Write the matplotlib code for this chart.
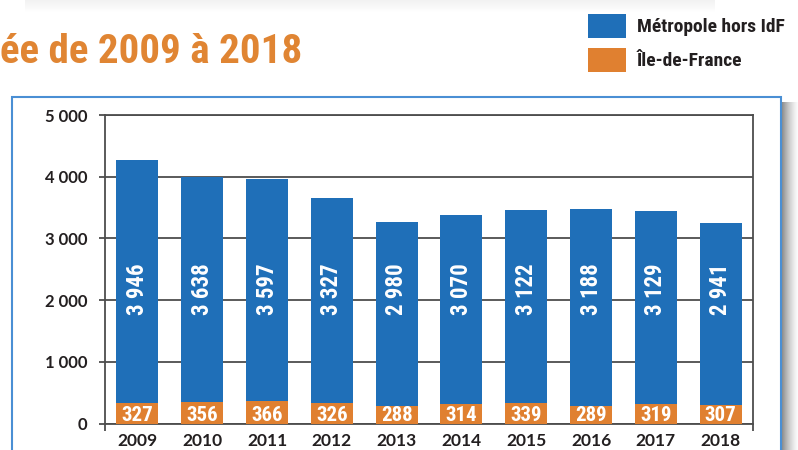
import matplotlib.pyplot as plt
import numpy as np
from matplotlib.patches import Rectangle

years = ['2009', '2010', '2011', '2012', '2013', '2014', '2015', '2016', '2017', '2018']
metropole = [3946, 3638, 3597, 3327, 2980, 3070, 3122, 3188, 3129, 2941]
idf = [327, 356, 366, 326, 288, 314, 339, 289, 319, 307]

blue = '#1f6fb8'
orange = '#e08030'
dark = '#231f20'
grid = '#4d4d4d'
narrow = ['Roboto Condensed', 'Lato', 'DejaVu Sans']
plt.rcParams['font.family'] = ['Lato', 'DejaVu Sans']

W, H = 798, 450
fig = plt.figure(figsize=(W / 100, H / 100), dpi=100)

# shadow from the box above (top edge)
for i in range(12):
    fig.add_artist(Rectangle((25 / W, 1 - (i + 1) / H), 690 / W, 1 / H, transform=fig.transFigure,
                             color='#808080', alpha=0.10 * (1 - i / 12), lw=0, zorder=0))
# shadow on the right of the chart box
for i in range(17):
    fig.add_artist(Rectangle(((782 + i) / W, 0), 1 / W, 1 - 102 / H, transform=fig.transFigure,
                             color='#606060', alpha=0.7 * (1 - i / 17) ** 1.5, lw=0, zorder=0))
# chart box
fig.add_artist(Rectangle((12 / W, -0.1), (781 - 12) / W, 1 - 97 / H + 0.1, transform=fig.transFigure,
                         facecolor='white', edgecolor='#4a8fd4', lw=1.5, zorder=1))

# title (cut on the left in the original)
fig.text(0, 1 - 63 / H, 'ée de 2009 à 2018', color='#e08533', fontsize=29.5, fontweight='bold',
         ha='left', va='baseline', family=narrow, fontstretch='condensed')

# legend
for k, (lab, col) in enumerate([('Métropole hors IdF', blue), ('Île-de-France', orange)]):
    y0 = 14 + k * 34
    fig.add_artist(Rectangle((588 / W, 1 - (y0 + 24) / H), 38 / W, 24 / H, transform=fig.transFigure,
                             color=col, lw=0))
    fig.text(637 / W, 1 - (y0 + 18.5) / H, lab, color=dark, fontsize=14, fontweight='bold',
             ha='left', va='baseline', family=narrow, fontstretch='condensed')

ax = fig.add_axes([105 / W, 26.5 / H, 648 / W, 308.5 / H])
ax.set_zorder(2)
ax.patch.set_alpha(0)
x = np.arange(len(years))
ax.bar(x, idf, 0.65, color=orange, zorder=3)
ax.bar(x, metropole, 0.65, bottom=idf, color=blue, zorder=3)

for i in range(len(years)):
    ax.text(x[i], 1758, f'{metropole[i]:,}'.replace(',', ' '), rotation=90, ha='center', va='bottom',
            color='white', fontsize=16.5, fontweight='bold', family=narrow, fontstretch='condensed', zorder=4)
    ax.text(x[i], 38, str(idf[i]), ha='center', va='baseline',
            color='white', fontsize=15, fontweight='bold', family=narrow, fontstretch='condensed', zorder=4)

ax.set_xlim(-0.5, 9.5)
ax.set_ylim(0, 5000)
yt = np.arange(0, 5001, 1000)
ax.set_yticks(yt, [f'{v:,}'.replace(',', ' ') for v in yt])
ax.set_xticks(x, years)
ax.set_xticks([-0.5, 9.5], minor=True)
ax.yaxis.grid(True, color=grid, lw=1.3, zorder=1)
ax.set_axisbelow(True)
for s in ax.spines.values():
    s.set_color(grid)
    s.set_linewidth(1.3)

ax.tick_params(axis='y', direction='out', length=4, width=1.3, color=grid, pad=8.5,
               labelsize=12, labelcolor=dark)
ax.tick_params(axis='x', which='major', length=0, pad=7, labelsize=12.5, labelcolor=dark)
ax.tick_params(axis='x', which='minor', direction='out', length=5, width=1.3, color=grid)
for t in ax.get_xticklabels() + ax.get_yticklabels():
    t.set_fontweight('bold')

fig.savefig('out.png', dpi=100)
